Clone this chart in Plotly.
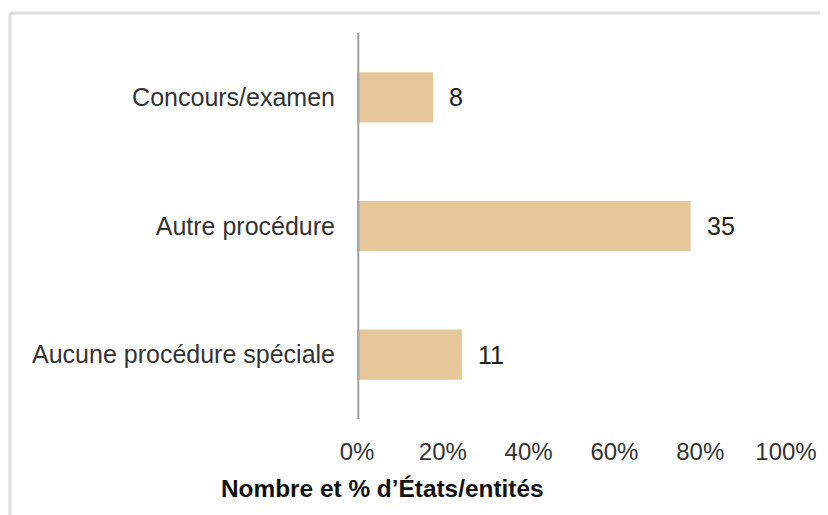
import plotly.graph_objects as go

categories = ["Aucune procédure spéciale", "Autre procédure", "Concours/examen"]
counts = [11, 35, 8]
total_entities = 45
percents = [c / total_entities * 100 for c in counts]
tick_vals = [0, 20, 40, 60, 80, 100]
tick_text = ["0%", "20%", "40%", "60%", "80%", "100%"]
axis_title = "Nombre et % d’États/entités"

# page has an 8px body margin; work in figure coordinates
OFF = 8
W, H = 820, 507
L, R, T, B = 349, 42, 25, 96
pw, ph = W - L - R, H - T - B

def px_to_paper_x(px):
    return (px - OFF - L) / pw

def py_to_paper_y(py):
    return (H - B - (py - OFF)) / ph

fig = go.Figure()
fig.add_trace(go.Bar(
    y=categories, x=percents, orientation="h",
    marker=dict(color="#E6C79A", line=dict(width=0)),
    width=0.39, hoverinfo="skip",
))

for cat, pct, cnt in zip(categories, percents, counts):
    fig.add_annotation(x=pct, y=cat, text=str(cnt), showarrow=False,
                       xanchor="left", xshift=14,
                       font=dict(family="Liberation Sans, Arial", size=25, color="#222222"))

fig.add_annotation(x=px_to_paper_x(382), y=py_to_paper_y(488), xref="paper", yref="paper",
                   text="<b>" + axis_title + "</b>", showarrow=False,
                   xanchor="center", yanchor="middle",
                   font=dict(family="Liberation Sans, Arial", size=24.4, color="#111111"))

frame_color = "#dedede"
x0 = px_to_paper_x(10)
y_top = py_to_paper_y(13)
fig.add_shape(type="line", xref="paper", yref="paper", x0=x0, x1=x0,
              y0=py_to_paper_y(530), y1=y_top, line=dict(color=frame_color, width=3))
fig.add_shape(type="line", xref="paper", yref="paper", x0=x0, x1=px_to_paper_x(840),
              y0=y_top, y1=y_top, line=dict(color=frame_color, width=3))

fig.update_layout(
    width=W, height=H,
    margin=dict(l=L, r=R, t=T, b=B, autoexpand=False),
    paper_bgcolor="white", plot_bgcolor="white",
    showlegend=False,
    font=dict(family="Liberation Sans, Arial", size=24, color="#333333"),
    xaxis=dict(range=[0, 100], tickvals=tick_vals, ticktext=tick_text,
               showgrid=False, zeroline=False, showline=False,
               ticks="", ticklabelstandoff=16,
               tickfont=dict(size=24, color="#333333")),
    yaxis=dict(categoryorder="array", categoryarray=categories,
               showgrid=False, zeroline=False, showline=False,
               ticks="", ticklabelstandoff=21,
               tickfont=dict(size=25, color="#333333")),
)

fig.add_shape(type="line", xref="x", yref="paper", x0=0.3, x1=0.3, y0=0, y1=1,
              line=dict(color="#a0a0a0", width=2))

fig.write_html("out.html")
